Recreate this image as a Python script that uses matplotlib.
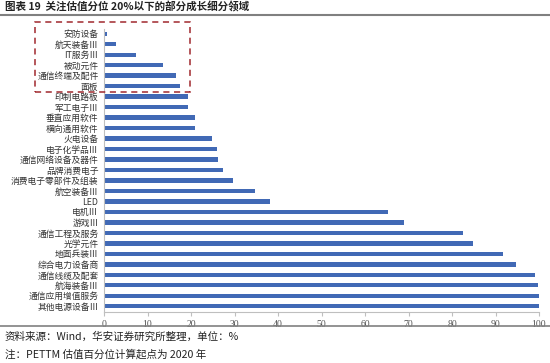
import matplotlib
matplotlib.use("Agg")
import matplotlib.pyplot as plt
from matplotlib.patches import Rectangle
from matplotlib.lines import Line2D

plt.rcParams['font.family'] = ['Noto Sans CJK SC', 'DejaVu Sans']

categories = ["安防设备", "航天装备Ⅲ", "IT服务Ⅲ", "被动元件", "通信终端及配件", "面板",
              "印制电路板", "军工电子Ⅲ", "垂直应用软件", "横向通用软件", "火电设备",
              "电子化学品Ⅲ", "通信网络设备及器件", "品牌消费电子", "消费电子零部件及组装",
              "航空装备Ⅲ", "LED", "电机Ⅲ", "游戏Ⅲ", "通信工程及服务", "光学元件",
              "地面兵装Ⅲ", "综合电力设备商", "通信线缆及配套", "航海装备Ⅲ",
              "通信应用增值服务", "其他电源设备Ⅲ"]
values = [0.8, 2.7, 7.4, 13.6, 16.6, 17.5, 19.2, 19.4, 20.9, 21.0, 24.9, 25.9, 26.2,
          27.4, 29.6, 34.6, 38.2, 65.4, 68.9, 82.5, 84.8, 91.8, 94.6, 99.0, 99.8, 99.9, 100.0]
xticks = [0, 10, 20, 30, 40, 50, 60, 70, 80, 90, 100]

title = "图表 19  关注估值分位 20%以下的部分成长细分领域"
source = "资料来源：Wind，华安证券研究所整理，单位：%"
note = "注：PETTM 估值百分位计算起点为 2020 年"

W, H = 550, 363
fig = plt.figure(figsize=(W / 100, H / 100), dpi=100)
ax = fig.add_axes([104 / W, 1 - 311.5 / H, (539 - 104) / W, (311.5 - 28.5) / H])

ypos = list(range(len(categories)))
ax.barh(ypos, values, height=0.42, color='#4169B5')
ax.set_ylim(len(categories) - 0.5, -0.5)
ax.set_xlim(0, 100)
ax.set_yticks(ypos)
ax.set_yticklabels(categories, fontsize=6.3, color='#333333')
ax.set_xticks(xticks)
ax.set_xticklabels([str(t) for t in xticks], fontsize=7, color='#555555',
                   family='Liberation Serif')
ax.tick_params(axis='y', length=0, pad=4)
ax.tick_params(axis='x', length=3, color='#BFBFBF', width=0.8, pad=3)
for s in ['top', 'right']:
    ax.spines[s].set_visible(False)
for s in ['left', 'bottom']:
    ax.spines[s].set_color('#BFBFBF')
    ax.spines[s].set_linewidth(0.8)

# title and lines
fig.text(5 / W, 1 - 7 / H, title, fontsize=7.6, fontweight='bold', va='center', ha='left',
         color='#222222')
fig.add_artist(Line2D([0, 1], [1 - 15 / H, 1 - 15 / H], transform=fig.transFigure,
                      color='#808080', linewidth=1.5))
fig.add_artist(Line2D([0, 1], [1 - 325.5 / H, 1 - 325.5 / H], transform=fig.transFigure,
                      color='#808080', linewidth=1.2))

# dashed highlight box
fig.add_artist(Rectangle((35 / W, 1 - 91.5 / H), (189.5 - 35) / W, (91.5 - 22) / H,
                         transform=fig.transFigure, fill=False, edgecolor='#A0282D',
                         linestyle=(0, (4, 3)), linewidth=1.1))

fig.text(5 / W, 1 - 337 / H, source, fontsize=7.6, va='center', ha='left', color='#222222')
fig.text(5 / W, 1 - 354 / H, note, fontsize=7.6, va='center', ha='left', color='#222222')

fig.savefig("out.png", dpi=100)
